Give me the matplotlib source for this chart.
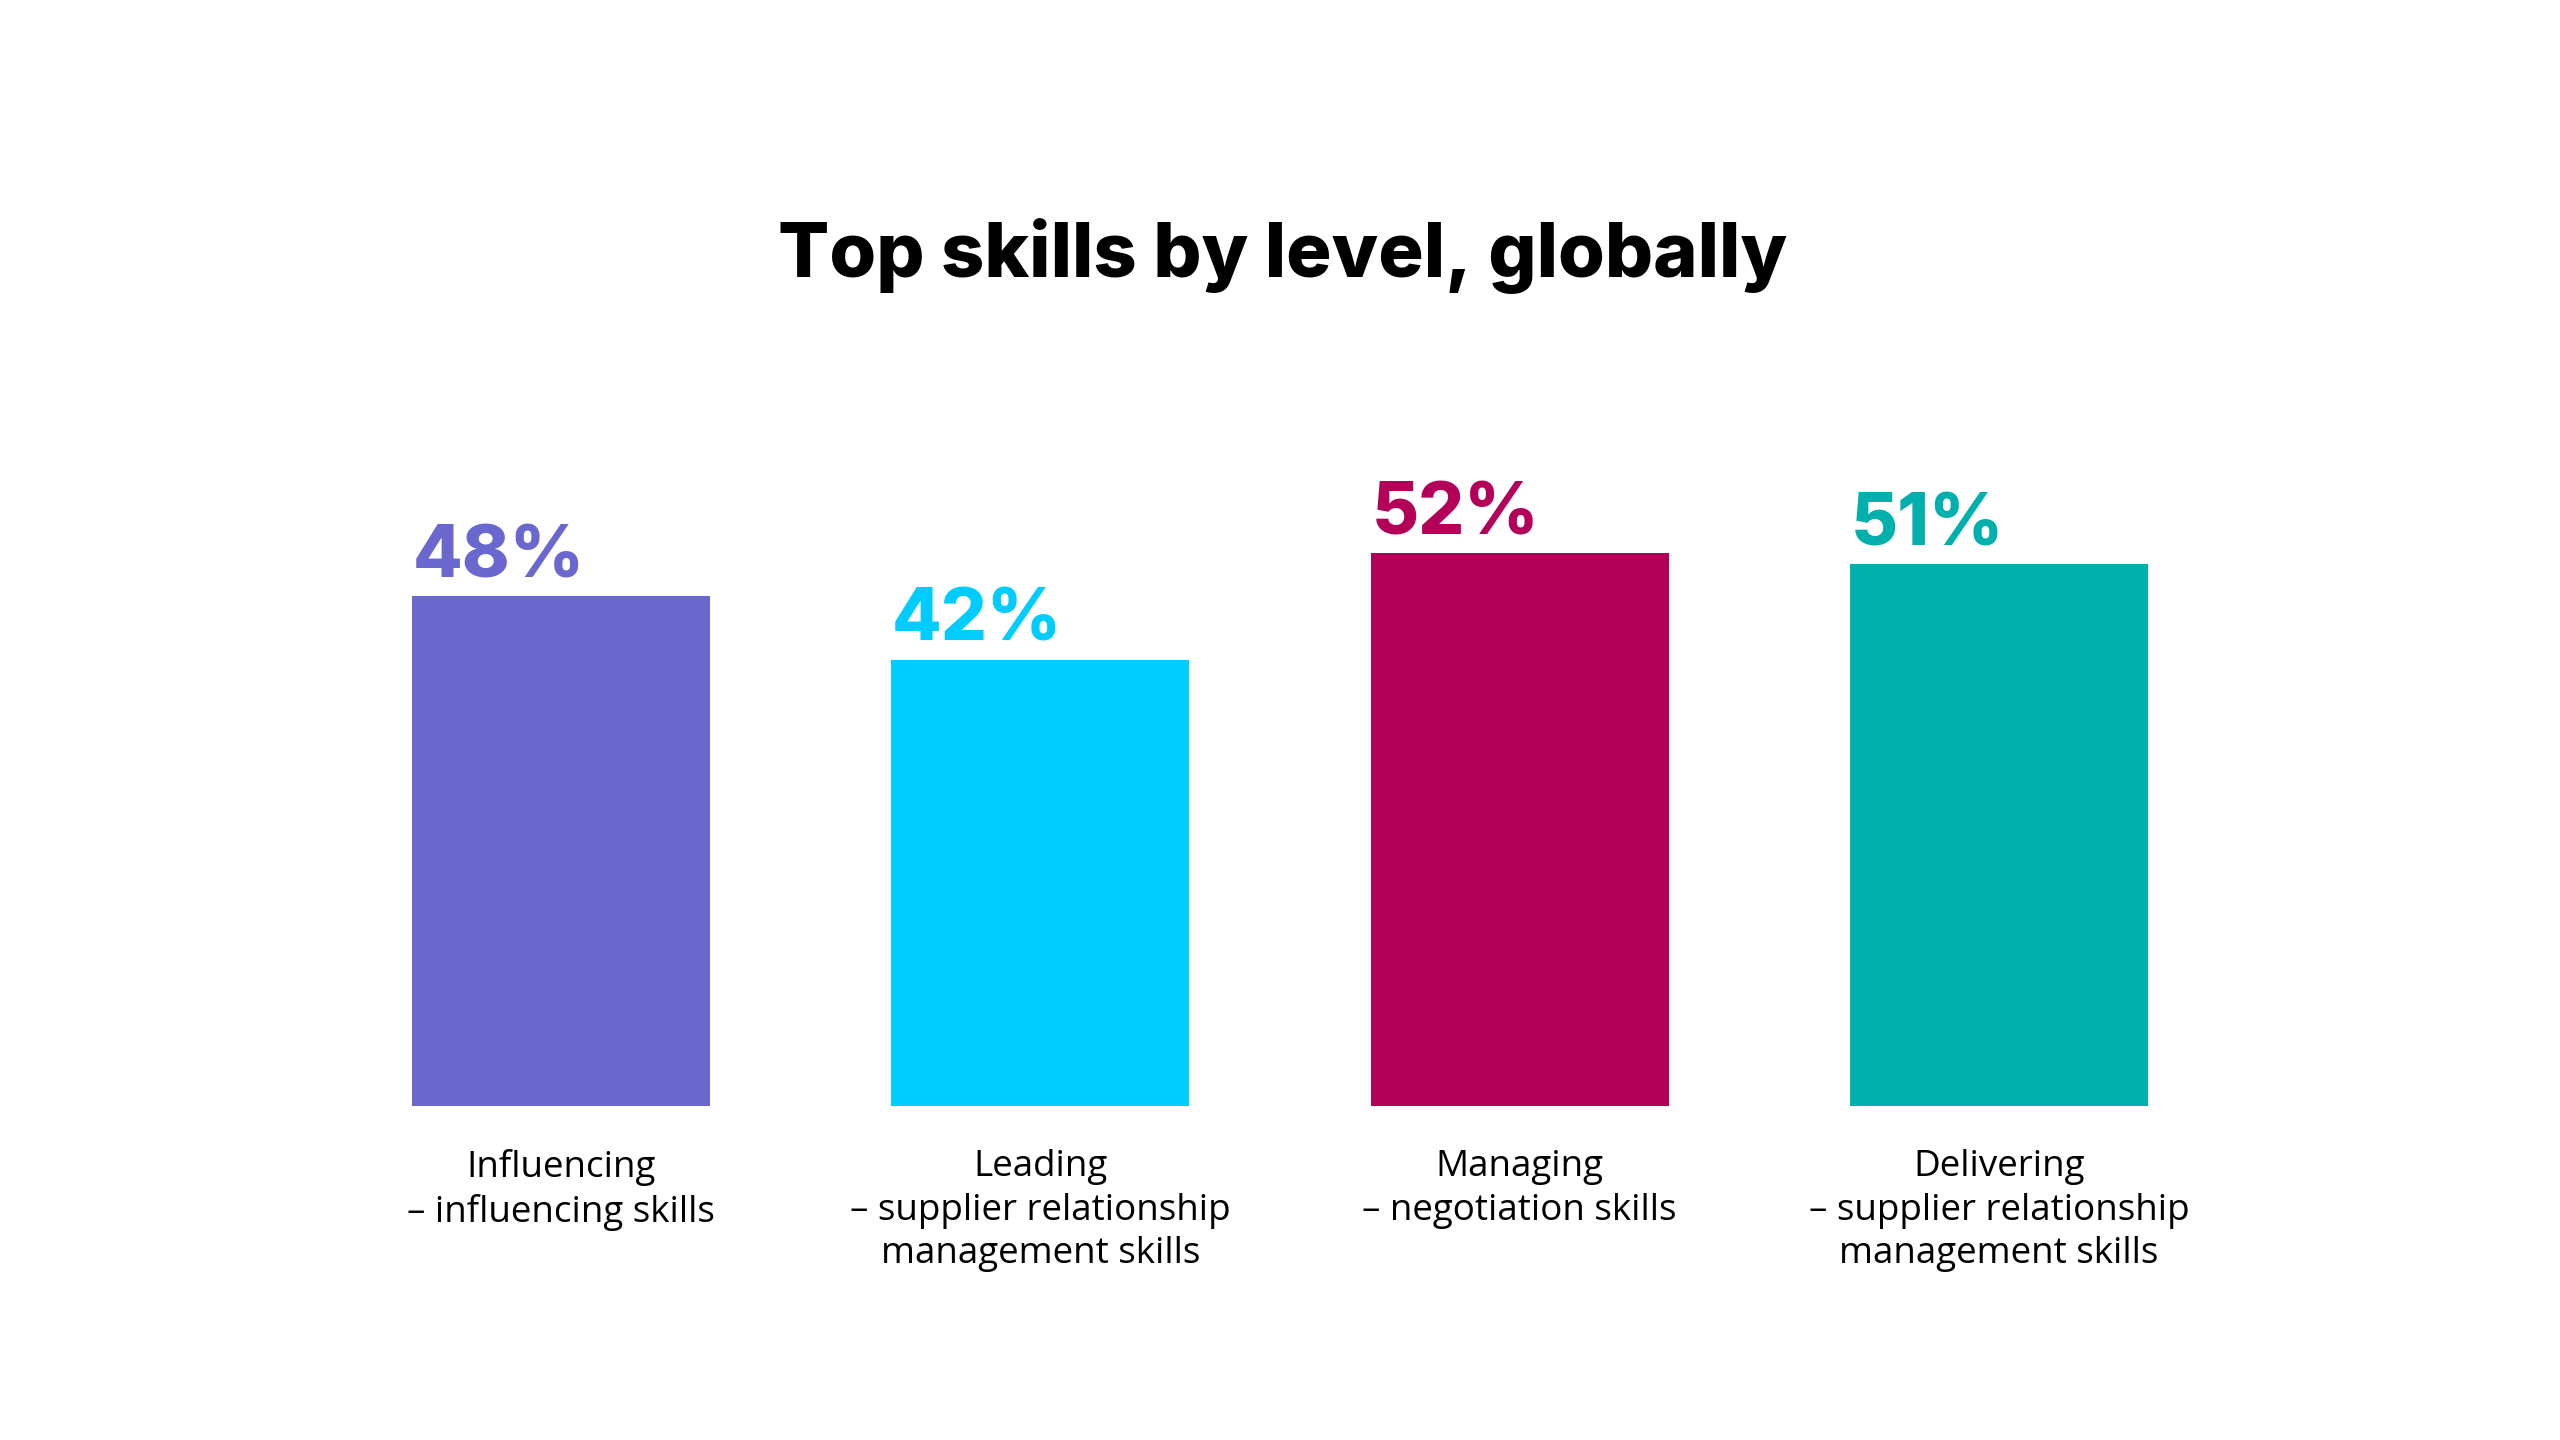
import matplotlib
matplotlib.use("Agg")
import matplotlib.pyplot as plt

# data
levels = ["Influencing", "Leading", "Managing", "Delivering"]
skills = ["influencing skills", "supplier relationship\nmanagement skills",
          "negotiation skills", "supplier relationship\nmanagement skills"]
values = [48, 42, 52, 51]
colors = ["#6A67CE", "#00CCFF", "#B30059", "#00B0AD"]

W, H, DPI = 2560, 1440, 100
fig = plt.figure(figsize=(W / DPI, H / DPI), dpi=DPI)
fig.patch.set_facecolor("white")

# layout in pixels (measured from reference)
pitch = 479.3
first_c = 561.0
bar_w = 298 / pitch
base_px = 334          # baseline from bottom
px_per_pct = 10.63
ax_l, ax_r, ax_top = 300, 2260, 1340

ax = fig.add_axes([ax_l / W, base_px / H, (ax_r - ax_l) / W, (ax_top - base_px) / H])
ax.set_xlim((ax_l - first_c) / pitch, (ax_r - first_c) / pitch)
ax.set_ylim(0, (ax_top - base_px) / px_per_pct)
ax.axis("off")

xs = list(range(len(values)))
ax.bar(xs, values, width=bar_w, color=colors, linewidth=0)

for x, v, c in zip(xs, values, colors):
    ax.annotate(f"{v}%", xy=(x - bar_w / 2, v), xytext=(0.5, 13.5), textcoords="offset points",
                ha="left", va="baseline", color=c, fontsize=52, fontweight="heavy",
                family="Inter", annotation_clip=False)

for x, lv, sk in zip(xs, levels, skills):
    ax.annotate(f"{lv}\n\u2013 {sk}", xy=(x, 0), xytext=(0, -31), textcoords="offset points",
                ha="center", va="top", fontsize=26.5, family="Open Sans", color="black",
                linespacing=1.28, multialignment="center", annotation_clip=False)

fig.text(1283 / W, (H - 277) / H, "Top skills by level, globally", ha="center", va="baseline",
         fontsize=54.5, fontweight="heavy", family="Inter", color="black")

fig.savefig("out.png", dpi=DPI, facecolor="white")
